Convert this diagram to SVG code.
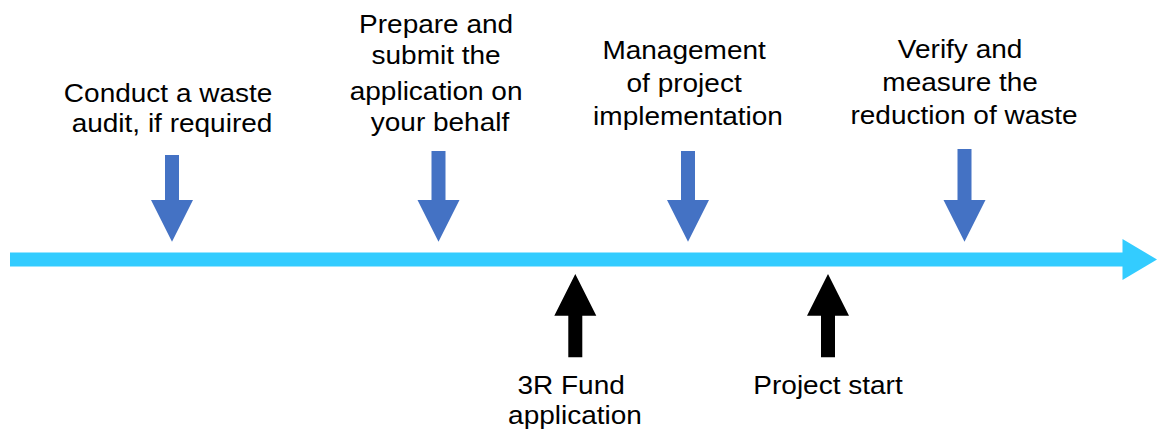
<svg xmlns="http://www.w3.org/2000/svg" width="1157" height="432" viewBox="0 0 1157 432">
  <style>
    .lbl { font-family: "Liberation Sans", Arial, sans-serif; font-size: 25px; fill: #000000; text-anchor: middle; }
    .down { fill: #4472C4; }
    .up { fill: #000000; }
    .bar { fill: #33CCFF; }
  </style>
  <rect width="1157" height="432" fill="#ffffff"/>

  <g id="connectors">
    <path class="bar" d="M 10 252.5 L 1122.5 252.5 L 1122.5 239 L 1157 259.5 L 1122.5 280 L 1122.5 266.5 L 10 266.5 Z"/>
  </g>

  <g id="node-audit">
    <path class="down" d="M 165 155 L 179 155 L 179 200 L 193 200 L 172 241.7 L 151 200 L 165 200 Z"/>
    <text class="lbl" transform="translate(172,0) scale(1.12,1)">
      <tspan x="0" y="102.5">Conduct  a waste</tspan>
      <tspan x="0" y="132.5">audit, if required</tspan>
    </text>
  </g>

  <g id="node-prepare">
    <path class="down" d="M 431.5 151 L 445.5 151 L 445.5 200 L 459.5 200 L 438.5 241.7 L 417.5 200 L 431.5 200 Z"/>
    <text class="lbl" transform="translate(440,0) scale(1.12,1)">
      <tspan x="0" y="33">Prepare and</tspan>
      <tspan x="0" y="64">submit the</tspan>
      <tspan x="0" y="100.5">application on</tspan>
      <tspan x="0" y="131.5">your behalf</tspan>
    </text>
  </g>

  <g id="node-management">
    <path class="down" d="M 681 151 L 695 151 L 695 200 L 709 200 L 688 241.7 L 667 200 L 681 200 Z"/>
    <text class="lbl" transform="translate(688,0) scale(1.12,1)">
      <tspan x="0" y="59">Management</tspan>
      <tspan x="0" y="92">of project</tspan>
      <tspan x="0" y="125">implementation</tspan>
    </text>
  </g>

  <g id="node-verify">
    <path class="down" d="M 957.5 149 L 971.5 149 L 971.5 200 L 985.5 200 L 964.5 241.7 L 943.5 200 L 957.5 200 Z"/>
    <text class="lbl" transform="translate(964,0) scale(1.12,1)">
      <tspan x="0" y="58">Verify and</tspan>
      <tspan x="0" y="91">measure the</tspan>
      <tspan x="0" y="124">reduction of waste</tspan>
    </text>
  </g>

  <g id="node-fund">
    <path class="up" d="M 575.3 274 L 596.3 315.7 L 582.3 315.7 L 582.3 357.3 L 568.3 357.3 L 568.3 315.7 L 554.3 315.7 Z"/>
    <text class="lbl" transform="translate(575,0) scale(1.12,1)">
      <tspan x="0" y="394">3R Fund</tspan>
      <tspan x="0" y="424">application</tspan>
    </text>
  </g>

  <g id="node-start">
    <path class="up" d="M 828 274 L 849 315.7 L 835 315.7 L 835 357.3 L 821 357.3 L 821 315.7 L 807 315.7 Z"/>
    <text class="lbl" transform="translate(828,0) scale(1.12,1)">
      <tspan x="0" y="394">Project start</tspan>
    </text>
  </g>
</svg>
